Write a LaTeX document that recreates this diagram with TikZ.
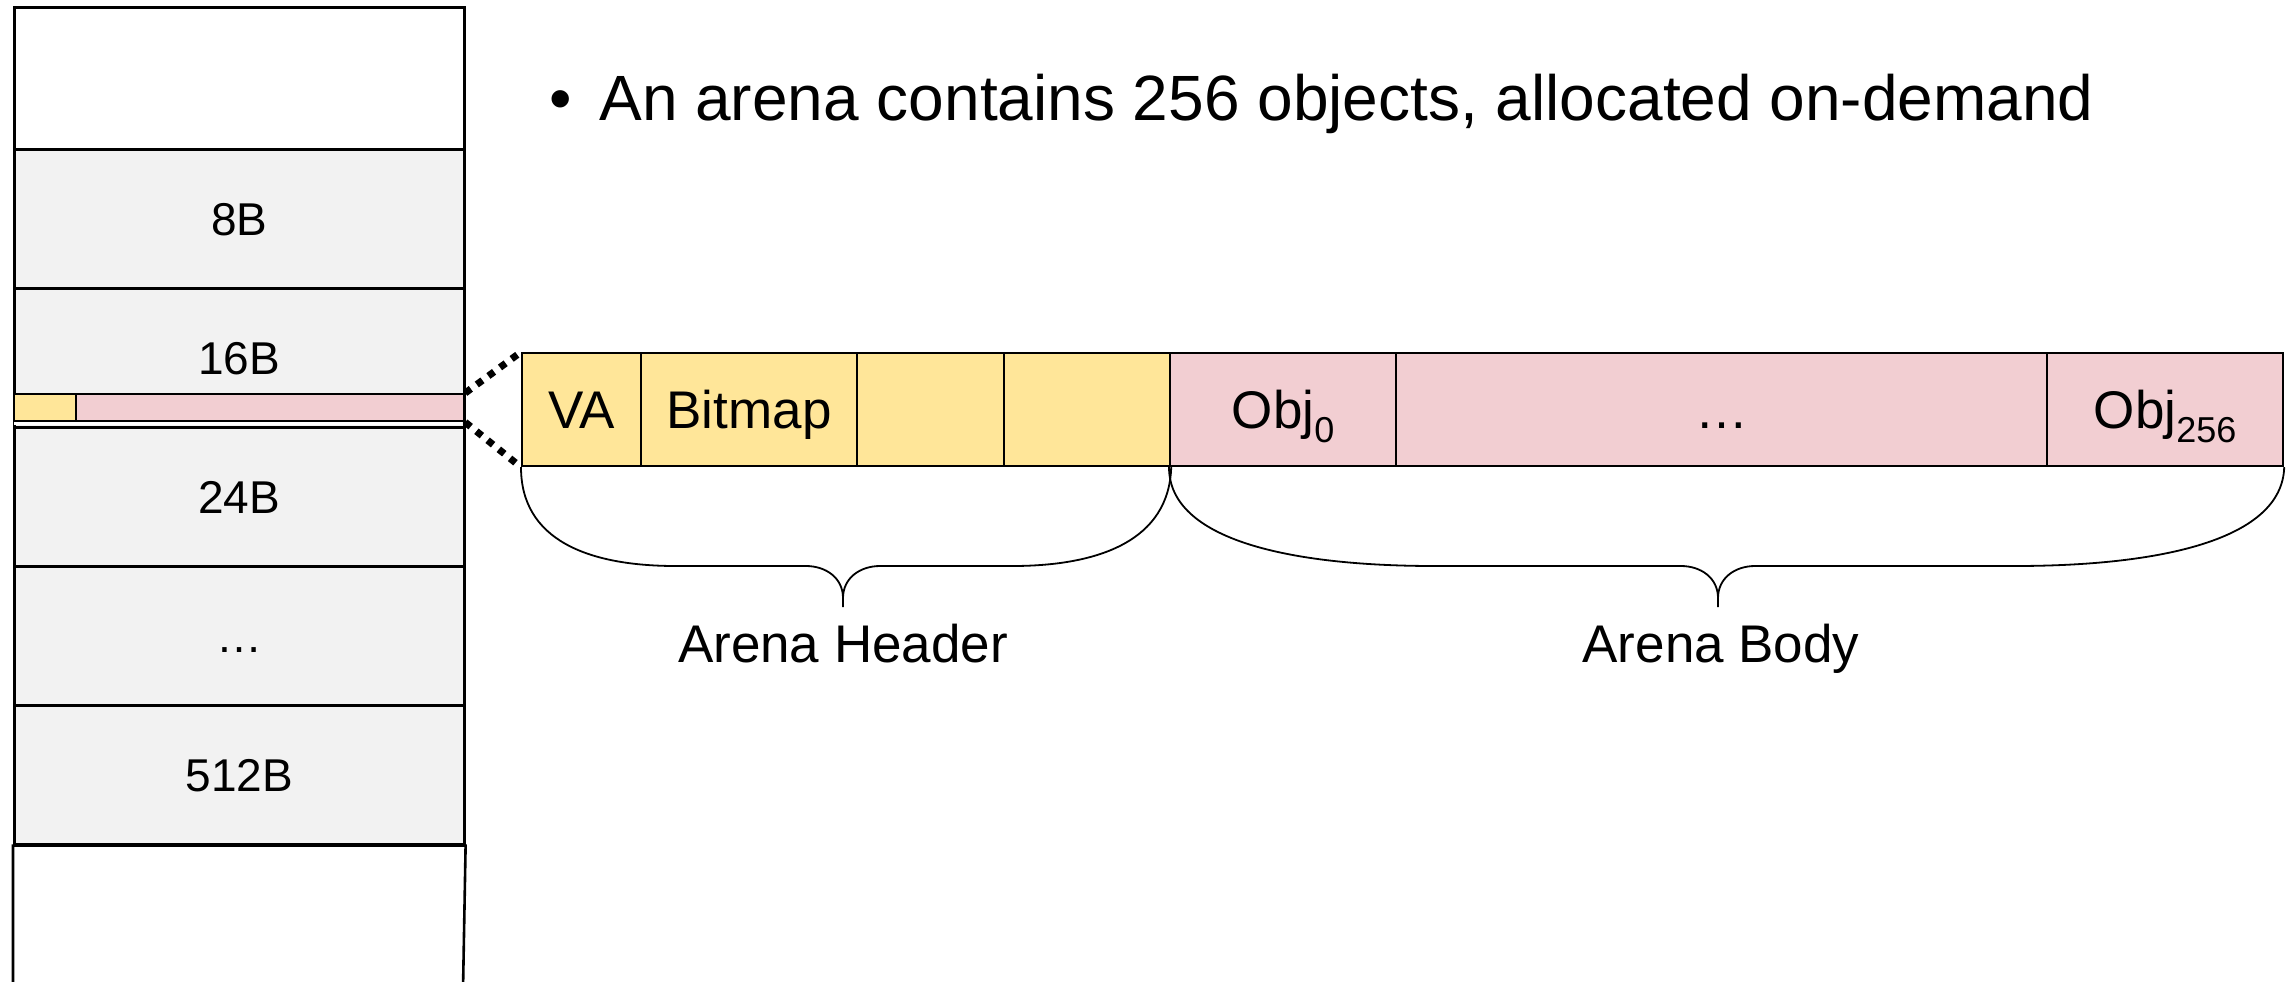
\documentclass[tikz,border=0pt]{standalone}
\usepackage{fontspec}
\setmainfont{Liberation Sans}
\definecolor{slotgray}{HTML}{F2F2F2}
\definecolor{hdryellow}{HTML}{FFE699}
\definecolor{bodypink}{HTML}{F2CED2}
\newcommand{\objsub}[1]{\raisebox{-7pt}{\fontsize{18}{18}\selectfont #1}}
\begin{document}
\begin{tikzpicture}[x=0.5pt,y=-0.5pt,
  slot/.style={draw, line width=1.3pt, fill=slotgray, anchor=north west,
    inner sep=0pt, minimum width=225pt, minimum height=69.5pt,
    font=\fontsize{23}{27}\selectfont, text height=16.5pt, text depth=0pt},
  cell/.style={draw, line width=1.1pt, anchor=north west, inner sep=0pt,
    minimum height=56.5pt, font=\fontsize{26.5}{31}\selectfont,
    text height=19pt, text depth=0pt},
  hdr/.style={cell, fill=hdryellow},
  body/.style={cell, fill=bodypink},
  zoomline/.style={line width=3.5pt, dash pattern=on 3.5pt off 3.7pt},
  bracket/.style={line width=0.9pt},
  label/.style={inner sep=0pt, anchor=base, font=\fontsize{26.5}{31}\selectfont}]

\path[use as bounding box] (0,0) rectangle (2295,981);

% size-class column
\node[slot, fill=white, minimum height=71pt] (top) at (13,6) {};
\node[slot] (s8)   at (13,148) {8B};
\node[slot] (s16)  at (13,287) {16B};
\node[slot] (s24)  at (13,426) {24B};
\node[slot] (sdot) at (13,565) {…};
\node[slot] (s512) at (13,704) {512B};
\draw[line width=1.3pt] (13,990) -- (s512.south west) -- (s512.south east) -- (463,990);

% one arena inside the 16B class
\fill[white] (14.4,421.4) rectangle (461.6,424.6);
\node[draw, line width=1.1pt, fill=hdryellow, anchor=north west, inner sep=0pt,
  minimum width=31pt, minimum height=13.5pt] (stripA) at (13,393) {};
\node[draw, line width=1.1pt, fill=bodypink, anchor=north west, inner sep=0pt,
  minimum width=194pt, minimum height=13.5pt] (stripB) at (75,393) {};

% arena layout
\node[hdr, minimum width=59.5pt]  (va)     at (521,352)  {VA};
\node[hdr, minimum width=108pt]   (bitmap) at (640,352)  {Bitmap};
\node[hdr, minimum width=73.5pt]  (hdrA)   at (856,352)  {};
\node[hdr, minimum width=83pt]    (hdrB)   at (1003,352) {};
\node[body, minimum width=113pt]  (obj0)   at (1169,352) {Obj\objsub{0}};
\node[body, minimum width=325.5pt](objdot) at (1395,352) {…};
\node[body, minimum width=118pt]  (objN)   at (2046,352) {Obj\objsub{256}};

% zoom-in guides
\draw[zoomline] (stripB.north east) -- (va.north west);
\draw[zoomline] (stripB.south east) -- (va.south west);

% braces
\coordinate (hdrtip) at (843,607);
\coordinate (bodytip) at (1718,607);
\draw[bracket] (va.south west) .. controls (521,540) and (588,566) .. (676,566)
  -- (806,566) .. controls (826,566) and (843,578) .. (843,598) -- (hdrtip);
\draw[bracket] (843,598) .. controls (843,578) and (860,566) .. (880,566)
  -- (1012,566) .. controls (1100,566) and (1169,540) .. (hdrB.south east);
\draw[bracket] (obj0.south west) .. controls (1169,540) and (1290,566) .. (1435,566)
  -- (1681,566) .. controls (1701,566) and (1718,578) .. (1718,598) -- (bodytip);
\draw[bracket] (1718,598) .. controls (1718,578) and (1735,566) .. (1755,566)
  -- (2014,566) .. controls (2160,566) and (2282,540) .. (objN.south east);

\node[label] (hdrlabel)  at (843,662)  {Arena Header};
\node[label] (bodylabel) at (1721,662) {Arena Body};

% caption
\node[inner sep=0pt, anchor=base, font=\fontsize{32}{38}\selectfont] (bullet) at (561,120) {•};
\node[inner sep=0pt, anchor=base west, font=\fontsize{32}{38}\selectfont] (title) at (599,120)
  {An arena contains 256 objects, allocated on-demand};
\end{tikzpicture}
\end{document}
